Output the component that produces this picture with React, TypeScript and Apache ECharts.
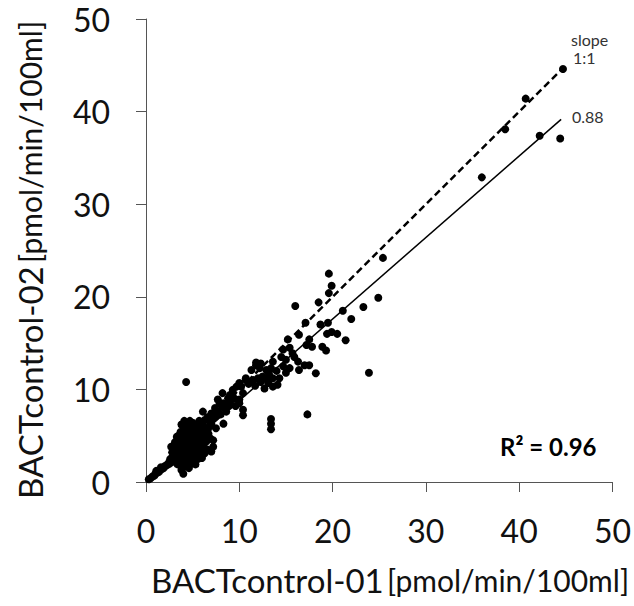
import React, { useEffect, useRef } from "react";
import * as echarts from "echarts";

const xTicks = [0, 10, 20, 30, 40, 50];
const yTicks = [0, 10, 20, 30, 40, 50];

const lowBand: number[][] = [
  [0.3, 0.3], [0.5, 0.4], [0.7, 0.6], [0.9, 0.7], [1.0, 0.9], [1.2, 1.0], [1.4, 1.1],
  [1.5, 1.3], [1.7, 1.4], [1.9, 1.5], [2.0, 1.7], [2.2, 1.8], [2.4, 1.9], [2.5, 2.2],
  [2.7, 2.1], [2.6, 2.5], [2.8, 2.4], [3.0, 2.3], [2.9, 2.8], [1.1, 1.2], [1.6, 1.6],
];

const cluster: number[][] = [
  [3.0, 3.0], [3.2, 2.7], [3.3, 3.3], [3.5, 2.9], [3.4, 3.8], [3.6, 3.4], [3.7, 4.1],
  [3.8, 3.0], [3.9, 3.7], [4.0, 4.4], [4.1, 3.3], [4.2, 4.0], [4.3, 4.8], [4.4, 3.6],
  [4.5, 4.3], [4.6, 5.1], [4.7, 3.9], [4.8, 4.6], [4.9, 3.2], [5.0, 5.3], [5.1, 4.2],
  [5.2, 4.9], [5.3, 3.7], [5.4, 5.6], [5.5, 4.5], [5.6, 5.0], [5.7, 3.9], [5.8, 5.9],
  [5.9, 4.6], [6.0, 5.4], [6.2, 4.1], [6.3, 5.8], [6.4, 5.0], [3.6, 4.7], [3.9, 5.2],
  [4.1, 5.6], [4.3, 6.0], [4.4, 6.3], [4.0, 5.9], [3.7, 5.4], [3.4, 4.4], [3.2, 3.9],
  [3.1, 3.5], [4.6, 5.8], [4.8, 6.1], [5.0, 6.4], [4.2, 2.8], [4.5, 2.6], [4.7, 2.9],
  [5.0, 2.4], [3.8, 2.3], [3.5, 2.2], [4.4, 2.1], [4.9, 2.0], [5.4, 2.8], [5.8, 3.2],
  [6.1, 3.6], [6.5, 4.4], [6.7, 5.2], [6.9, 4.7], [3.3, 2.5], [4.0, 1.6], [3.8, 1.3],
  [4.0, 0.9], [5.0, 2.2], [5.9, 2.9], [6.3, 3.1], [7.2, 3.8], [7.2, 4.5], [6.5, 5.1],
  [5.6, 3.8], [7.5, 5.8], [8.3, 6.3], [6.3, 6.7], [7.0, 6.3], [4.3, 10.8],
  [3.5, 5.0], [4.2, 5.2], [4.8, 5.5], [5.3, 6.0], [5.6, 6.2], [4.6, 4.0], [5.2, 3.4],
  [3.6, 3.9], [4.3, 3.1], [4.8, 3.5], [5.5, 3.3], [6.0, 4.8], [6.6, 5.6], [3.0, 3.6],
  [2.8, 3.2], [2.7, 3.8], [3.1, 4.3], [3.3, 4.9], [3.8, 6.2], [4.1, 6.6], [4.7, 6.6],
  [5.2, 5.7], [5.7, 6.6], [6.1, 6.2], [6.8, 6.0], [3.4, 1.9], [3.9, 1.9], [4.6, 1.5],
  [5.3, 1.9], [5.6, 2.5], [6.0, 2.6], [6.6, 3.5], [7.0, 3.3], [4.4, 4.9], [5.0, 4.0],
];

const midRange: number[][] = [
  [6.1, 7.6], [7.0, 7.4], [6.6, 7.0], [6.8, 6.6], [7.3, 6.9], [7.5, 7.1], [7.7, 7.6],
  [7.9, 8.5], [7.7, 8.9], [8.2, 8.1], [8.3, 8.5], [8.6, 7.6], [8.8, 9.05], [8.2, 9.6],
  [9.0, 9.4], [9.3, 9.6], [9.3, 9.95], [9.0, 8.6], [9.5, 9.0], [9.7, 10.3], [10.0, 10.7],
  [10.0, 8.5], [10.4, 7.8], [10.4, 7.2], [10.0, 8.9], [10.4, 9.6], [10.2, 10.3],
  [10.7, 11.0], [10.7, 11.2], [9.6, 8.2], [8.0, 7.3], [7.4, 8.0], [8.9, 8.2],
];

const upperRange: number[][] = [
  [11.3, 12.1], [11.8, 12.9], [12.2, 12.3], [12.9, 12.1], [13.2, 11.6], [12.5, 11.4],
  [13.6, 11.2], [14.3, 11.2], [15.0, 11.8], [15.4, 12.3], [13.1, 10.7], [13.6, 10.3],
  [14.1, 10.5], [12.7, 10.1], [11.0, 10.6], [11.5, 11.0], [12.0, 11.2], [11.7, 10.4],
  [12.3, 10.8], [13.0, 11.0], [13.4, 12.3], [14.0, 12.0], [14.7, 12.5], [13.6, 13.0],
  [14.5, 13.5], [15.0, 13.2], [15.9, 13.5], [16.3, 13.0], [17.0, 12.6], [16.4, 12.1],
  [17.5, 12.6], [15.2, 15.4], [15.4, 14.5], [14.7, 14.3], [15.7, 13.9], [16.4, 15.9],
  [17.5, 15.4], [17.2, 14.8], [17.8, 14.6], [18.9, 14.6], [19.3, 14.2], [17.1, 17.2],
  [18.7, 17.0], [19.5, 17.2], [19.9, 16.2], [20.5, 16.0], [19.4, 16.0], [21.4, 15.3],
  [16.0, 19.0], [18.5, 19.4], [19.6, 20.4], [19.9, 21.2], [19.6, 22.5], [21.1, 18.5],
  [22.0, 17.6], [23.3, 18.9], [24.9, 19.9], [25.4, 24.2], [11.8, 12.6], [12.3, 12.8],
];

const outliers: number[][] = [
  [23.9, 11.8], [18.2, 11.75], [17.3, 7.3], [13.4, 6.8], [13.4, 6.3], [13.4, 5.7],
  [36.0, 32.9], [38.5, 38.1], [40.7, 41.4], [42.2, 37.4], [44.4, 37.1], [44.7, 44.6],
];

const oneToOneLine: number[][] = [[0, 0], [44.7, 44.7]];
const fitLine: number[][] = [[0, 0], [44.5, 39.16]];

const FONT = "Lato, 'Open Sans', sans-serif";

export default function App() {
  const ref = useRef<HTMLDivElement>(null);
  useEffect(() => {
    if (!ref.current) return;
    const chart = echarts.init(ref.current, undefined, { renderer: "svg" });
    const axisCommon = {
      type: "value" as const,
      min: 0,
      max: 50,
      interval: 10,
      splitLine: { show: false },
      axisLine: { show: true, lineStyle: { color: "#555", width: 1 } },
      axisTick: { show: true, inside: false, length: 10, lineStyle: { color: "#555" } },
    };
    chart.setOption({
      animation: false,
      backgroundColor: "#fff",
      grid: { left: 146, right: 20, top: 19, bottom: 124, containLabel: false },
      xAxis: {
        ...axisCommon,
        axisLabel: {
          margin: 32,
          fontSize: 32,
          fontFamily: FONT,
          color: "#111",
          formatter: (v: number) => (xTicks.includes(v) ? String(v) : ""),
        },
      },
      yAxis: {
        ...axisCommon,
        axisLabel: {
          margin: 36,
          fontSize: 32,
          fontFamily: FONT,
          color: "#111",
          formatter: (v: number) => (yTicks.includes(v) ? String(v) : ""),
        },
      },
      series: [
        {
          type: "line",
          data: oneToOneLine,
          symbol: "none",
          lineStyle: { color: "#000", width: 2.5, type: [7, 4] },
          z: 3,
        },
        {
          type: "line",
          data: fitLine,
          symbol: "none",
          lineStyle: { color: "#000", width: 1.5 },
          z: 3,
        },
        {
          type: "scatter",
          data: [...lowBand, ...cluster, ...midRange, ...upperRange, ...outliers],
          symbol: "circle",
          symbolSize: 8,
          itemStyle: { color: "#000", opacity: 1 },
          z: 4,
        },
      ],
      graphic: [
        {
          type: "text",
          left: 571,
          top: 31,
          style: { text: "slope", fontSize: 16, fontFamily: FONT, fill: "#333" },
        },
        {
          type: "text",
          left: 573,
          top: 49,
          style: { text: "1:1", fontSize: 16, fontFamily: FONT, fill: "#333" },
        },
        {
          type: "text",
          left: 572,
          top: 108,
          style: { text: "0.88", fontSize: 16, fontFamily: FONT, fill: "#333" },
        },
        {
          type: "text",
          left: 500,
          top: 434,
          style: { text: "R² = 0.96", fontSize: 24, fontWeight: "bold", fontFamily: FONT, fill: "#000" },
        },
        {
          type: "text",
          x: 390,
          y: 580,
          style: {
            text: "{a|BACTcontrol-01} {b|[pmol/min/100ml]}",
            align: "center",
            verticalAlign: "middle",
            rich: {
              a: { fontSize: 33, fontFamily: FONT, fill: "#111" },
              b: { fontSize: 30, fontFamily: FONT, fill: "#111" },
            },
          },
        },
        {
          type: "text",
          x: 30,
          y: 260,
          rotation: Math.PI / 2,
          style: {
            text: "{a|BACTcontrol-02} {b|[pmol/min/100ml]}",
            align: "center",
            verticalAlign: "middle",
            rich: {
              a: { fontSize: 33, fontFamily: FONT, fill: "#111" },
              b: { fontSize: 30, fontFamily: FONT, fill: "#111" },
            },
          },
        },
      ],
    });
    return () => chart.dispose();
  }, []);
  return (
    <div
      ref={ref}
      style={{ position: "fixed", left: 0, top: 0, width: 634, height: 606, background: "#fff" }}
    />
  );
}
